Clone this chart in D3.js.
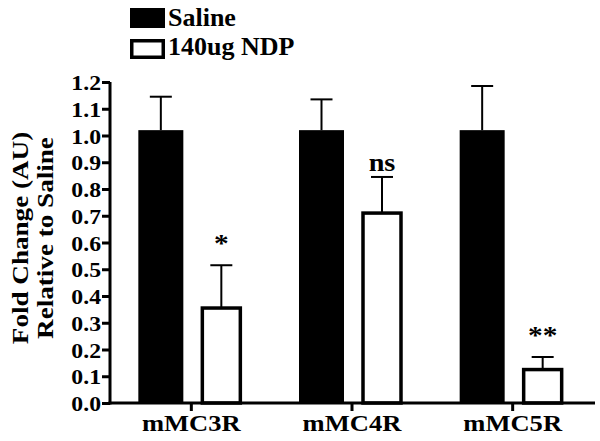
<!DOCTYPE html>
<html>
<head>
<meta charset="utf-8">
<script src="https://cdnjs.cloudflare.com/ajax/libs/d3/7.8.5/d3.min.js"></script>
<style>
body{margin:0;background:#fff;}
</style>
</head>
<body>
<script>
// data
var receptors=["mMC3R","mMC4R","mMC5R"];
var groups=["Saline","140ug NDP"];
var salineMean=[1.02,1.02,1.02];
var salineSem=[0.125,0.115,0.165];
var ndpMean=[0.355,0.71,0.125];
var ndpSem=[0.16,0.135,0.047];
var sigLabels=["*","ns","**"];
var yTicks=[0,0.1,0.2,0.3,0.4,0.5,0.6,0.7,0.8,0.9,1.0,1.1,1.2];

var W=600,H=441;
var stretch=1.13;	// the text in the figure is a bit wider than plain Times
var FONT="'Liberation Serif','Times New Roman','DejaVu Serif',serif";

var svg=d3.select("body").append("svg").attr("width",W).attr("height",H);

var x=d3.scaleBand().domain(receptors).range([111,593]);
var y=d3.scaleLinear().domain([0,1.2]).range([403,82]);

var rows=receptors.map(function(r,i){
	return {name:r,s:salineMean[i],se:salineSem[i],n:ndpMean[i],ne:ndpSem[i],sig:sigLabels[i]};
});

function cx(d){return x(d.name)+x.bandwidth()/2;}

// stretched text helper
function label(g,tx,ty,str,size,anchor,rot){
	return g.append("text")
		.attr("transform","translate("+tx+","+ty+")"+(rot?" rotate("+rot+")":"")+" scale("+stretch+",1)")
		.attr("text-anchor",anchor)
		.attr("fill","#000")
		.style("font-family",FONT)
		.style("font-weight","bold")
		.style("font-size",size+"px")
		.text(str);
}

// saline bars
svg.selectAll(".sal").data(rows).enter().append("rect")
	.attr("x",function(d){return cx(d)-53;})
	.attr("width",45)
	.attr("y",function(d){return y(d.s);})
	.attr("height",function(d){return y(0)-y(d.s);})
	.attr("fill","#000");

// NDP bars (open)
svg.selectAll(".ndp").data(rows).enter().append("rect")
	.attr("x",function(d){return cx(d)+11;})
	.attr("width",38)
	.attr("y",function(d){return y(d.n);})
	.attr("height",function(d){return y(0)-y(d.n);})
	.attr("fill","#fff").attr("stroke","#000").attr("stroke-width",3.5);

// error bars (upper only)
function errs(off,m,e){
	var g=svg.append("g").attr("stroke","#000").attr("stroke-width",2);
	rows.forEach(function(d){
		var c=cx(d)+off;
		g.append("line").attr("x1",c).attr("x2",c).attr("y1",y(d[m])).attr("y2",y(d[m]+d[e]));
		g.append("line").attr("x1",c-11).attr("x2",c+11).attr("y1",y(d[m]+d[e])).attr("y2",y(d[m]+d[e]));
	});
}
errs(-30.5,"s","se");
errs(30,"n","ne");

// significance marks
rows.forEach(function(d){
	var top=y(d.n+d.ne);
	if(d.sig=="ns")
		label(svg,cx(d)+30,top-6,d.sig,25,"middle");
	else
		label(svg,cx(d)+30,top-13,d.sig,26,"middle");
});

// y axis
var ya=svg.append("g").attr("transform","translate(110,0)")
	.call(d3.axisLeft(y).tickValues(yTicks).tickSize(8).tickFormat(d3.format(".1f")));
ya.select(".domain").attr("stroke-width",3).attr("d","M0,"+y(1.2)+"V"+(y(0)+1.5));
ya.selectAll(".tick line").attr("stroke-width",3);
ya.selectAll(".tick text").remove();
ya.selectAll(".tick").each(function(d){
	label(d3.select(this),-9,7.5,d3.format(".1f")(d),21,"end");
});

// x axis
var xa=svg.append("g").attr("transform","translate(0,403)")
	.call(d3.axisBottom(x).tickSize(8).tickSizeOuter(0));
xa.select(".domain").attr("stroke-width",3).attr("d","M108.5,0H595");
xa.selectAll(".tick line").attr("stroke-width",3);
xa.selectAll(".tick text").remove();
xa.selectAll(".tick").each(function(d){
	label(d3.select(this),0,28,d,23.5,"middle");
});

// y title
label(svg,28,238,"Fold Change (AU)",24,"middle",-90);
label(svg,53,238,"Relative to Saline",24,"middle",-90);

// legend
var lg=svg.append("g");
lg.append("rect").attr("x",130).attr("y",8).attr("width",35).attr("height",20).attr("fill","#000");
lg.append("rect").attr("x",131.75).attr("y",40.75).attr("width",31.5).attr("height",16.5)
	.attr("fill","#fff").attr("stroke","#000").attr("stroke-width",3.5);
lg.selectAll("text").data(groups).enter().append("text")
	.attr("x",168).attr("y",function(d,i){return 26+i*29;})
	.style("font-family",FONT)
	.style("font-weight","bold")
	.style("font-size","26px")
	.text(function(d){return d;});
</script>
</body>
</html>
